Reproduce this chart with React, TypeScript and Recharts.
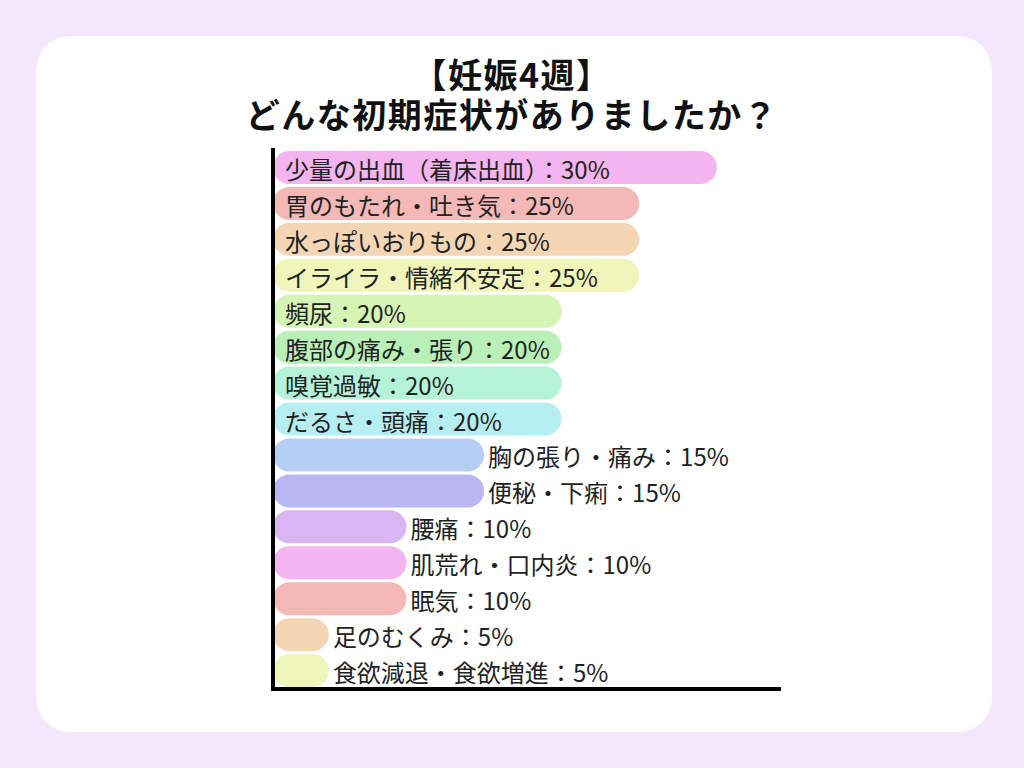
import { BarChart, Bar, XAxis, YAxis, Cell, LabelList } from "recharts";

// ===== DATA =====
const symptoms = [
  "少量の出血（着床出血）",
  "胃のもたれ・吐き気",
  "水っぽいおりもの",
  "イライラ・情緒不安定",
  "頻尿",
  "腹部の痛み・張り",
  "嗅覚過敏",
  "だるさ・頭痛",
  "胸の張り・痛み",
  "便秘・下痢",
  "腰痛",
  "肌荒れ・口内炎",
  "眠気",
  "足のむくみ",
  "食欲減退・食欲増進",
];
const percents = [30, 25, 25, 25, 20, 20, 20, 20, 15, 15, 10, 10, 10, 5, 5];

const COLORS = [
  "#f4b4ef",
  "#f4b9b6",
  "#f4d6b4",
  "#f0f5b9",
  "#d5f5b5",
  "#b8f0b8",
  "#b5f3d9",
  "#b5eff2",
  "#b5cff3",
  "#bab5f3",
  "#d9b5f3",
  "#f4b4ef",
  "#f4b9b6",
  "#f4d6b4",
  "#f0f5b9",
];

const chartData = symptoms.map((name, i) => ({ name, value: percents[i] }));

const FONT = '"Noto Sans CJK JP", "Noto Sans", sans-serif';

// ===== LABEL =====
const renderLabel = (props: any) => {
  const { x, y, width, height, index } = props;
  const item = chartData[index];
  const inside = item.value >= 20;
  const tx = inside ? x + 12 : x + width + 4;
  return (
    <text
      x={tx}
      y={y + height / 2 + 1}
      dominantBaseline="central"
      fill="#222"
      fontSize={24}
      fontFamily={FONT}
    >
      {item.name}：{item.value}%
    </text>
  );
};

export default function App() {
  return (
    <div
      style={{
        position: "absolute",
        left: 0,
        top: 0,
        width: 1024,
        height: 768,
        background: "#f4e6fd",
        fontFamily: FONT,
      }}
    >
      {/* card */}
      <div
        style={{
          position: "absolute",
          left: 36,
          top: 36,
          width: 956,
          height: 696,
          borderRadius: 34,
          background: "#ffffff",
        }}
      />

      {/* title */}
      <div
        style={{
          position: "absolute",
          left: 0,
          top: 54,
          width: 1024,
          textAlign: "center",
          fontWeight: 700,
          fontSize: 34,
          letterSpacing: 1.5,
          lineHeight: "40px",
          color: "#111",
        }}
      >
        <div>【妊娠4週】</div>
        <div>どんな初期症状がありましたか？</div>
      </div>

      <div style={{ position: "absolute", left: 0, top: 0 }}>
        <BarChart
          width={1024}
          height={768}
          layout="vertical"
          data={chartData}
          margin={{ top: 150, right: 245, bottom: 78, left: 272 }}
          barCategoryGap={3}
        >
          <XAxis
            type="number"
            domain={[1.4, 34]}
            allowDataOverflow
            tick={false}
            tickLine={false}
            height={1}
            axisLine={{ stroke: "#000", strokeWidth: 4, strokeLinecap: "square" }}
          />
          <YAxis
            type="category"
            dataKey="name"
            tick={false}
            tickLine={false}
            width={1}
            axisLine={{ stroke: "#000", strokeWidth: 4, strokeLinecap: "square" }}
          />
          <Bar
            dataKey="value"
            barSize={33}
            radius={[17, 17, 17, 17]}
            isAnimationActive={false}
          >
            {chartData.map((_, index) => (
              <Cell key={index} fill={COLORS[index % COLORS.length]} />
            ))}
            <LabelList dataKey="value" content={renderLabel} />
          </Bar>
        </BarChart>
      </div>
    </div>
  );
}
